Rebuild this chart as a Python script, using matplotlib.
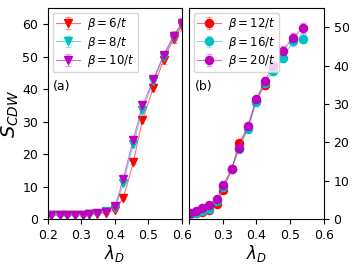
import matplotlib
matplotlib.use("Agg")
import matplotlib.pyplot as plt
import matplotlib.colors as mcolors
import numpy as np

# panel (a): lambda_D values and S_CDW for beta = 6, 8, 10
lam_a = [0.209, 0.236, 0.257, 0.281, 0.305, 0.323, 0.347, 0.374, 0.401,
         0.425, 0.455, 0.482, 0.515, 0.545, 0.575, 0.60]
s_b6 = [1.3, 1.3, 1.3, 1.3, 1.4, 1.5, 1.7, 2.0, 2.8, 6.5, 17.5, 30.5,
        40.5, 49.0, 55.5, 59.5]
s_b8 = [1.3, 1.3, 1.3, 1.3, 1.4, 1.5, 1.8, 2.5, 3.5, 11.0, 23.0, 33.5,
        42.5, 50.0, 56.0, 60.0]
s_b10 = [1.3, 1.3, 1.3, 1.3, 1.4, 1.5, 1.8, 2.2, 4.0, 12.5, 24.5, 35.0,
         43.0, 50.5, 56.5, 60.5]

# panel (b): beta = 12, 16, 20
lam_b = [0.203, 0.221, 0.239, 0.259, 0.283, 0.301, 0.327, 0.348, 0.375,
         0.399, 0.425, 0.449, 0.479, 0.508, 0.538]
s_b12 = [1.4, 1.5, 1.8, 2.3, 4.0, 7.5, 13.1, 19.7, 24.0, 30.8, 35.0]
s_b16 = [1.4, 1.7, 2.2, 2.7, 4.7, 8.3, 13.1, 18.3, 23.5, 30.5, 35.5,
         38.5, 42.0, 46.3, 47.0]
s_b20 = [1.5, 2.0, 2.8, 3.6, 5.3, 8.8, 13.1, 18.5, 24.3, 31.2, 36.0,
         40.0, 43.9, 47.2, 49.8]

fig = plt.figure(figsize=(3.52, 2.64), dpi=100)
ax1 = fig.add_axes([0.136, 0.170, 0.381, 0.800])
ax2 = fig.add_axes([0.537, 0.170, 0.383, 0.800])


def draw(ax, x, y, color, marker, label, ms):
    y = np.array(y)
    err = 0.02 * y + 0.3
    faint = mcolors.to_rgba(color, 0.55)
    ax.errorbar(x[:len(y)], y, yerr=err, fmt=marker + "-", color=faint,
                mfc=color, mec=color, ms=ms, lw=0.8, elinewidth=0.8,
                capsize=2, ecolor=mcolors.to_rgba(color, 0.35), label=label)


draw(ax1, lam_a, s_b6, "r", "v", r"$\beta=6/t$", 5.5)
draw(ax1, lam_a, s_b8, "c", "v", r"$\beta=8/t$", 5.5)
draw(ax1, lam_a, s_b10, "m", "v", r"$\beta=10/t$", 5.5)

draw(ax2, lam_b, s_b12, "r", "o", r"$\beta=12/t$", 5.8)
draw(ax2, lam_b, s_b16, "c", "o", r"$\beta=16/t$", 5.8)
draw(ax2, lam_b, s_b20, "m", "o", r"$\beta=20/t$", 5.8)

for ax in (ax1, ax2):
    ax.set_xlim(0.2, 0.6)
    ax.set_xticks([0.2, 0.3, 0.4, 0.5, 0.6])
    ax.tick_params(labelsize=9)
    ax.set_xlabel(r"$\lambda_D$", fontsize=12, labelpad=1)
    ax.legend(loc="upper left", fontsize=8.5, handlelength=2.0,
              borderpad=0.3, labelspacing=0.2, handletextpad=0.6,
              borderaxespad=0.4)

ax1.set_ylim(0, 65)
ax1.set_yticks([0, 10, 20, 30, 40, 50, 60])
ax1.set_ylabel(r"$S_{CDW}$", fontsize=14, labelpad=1)
ax1.text(0.04, 0.61, "(a)", transform=ax1.transAxes, fontsize=9)

ax2.set_ylim(0, 55)
ax2.set_yticks([0, 10, 20, 30, 40, 50])
ax2.yaxis.tick_right()
ax2.set_xticklabels(["", "0.3", "0.4", "0.5", "0.6"])
ax2.text(0.04, 0.61, "(b)", transform=ax2.transAxes, fontsize=9)

fig.savefig("out.png", dpi=100)
